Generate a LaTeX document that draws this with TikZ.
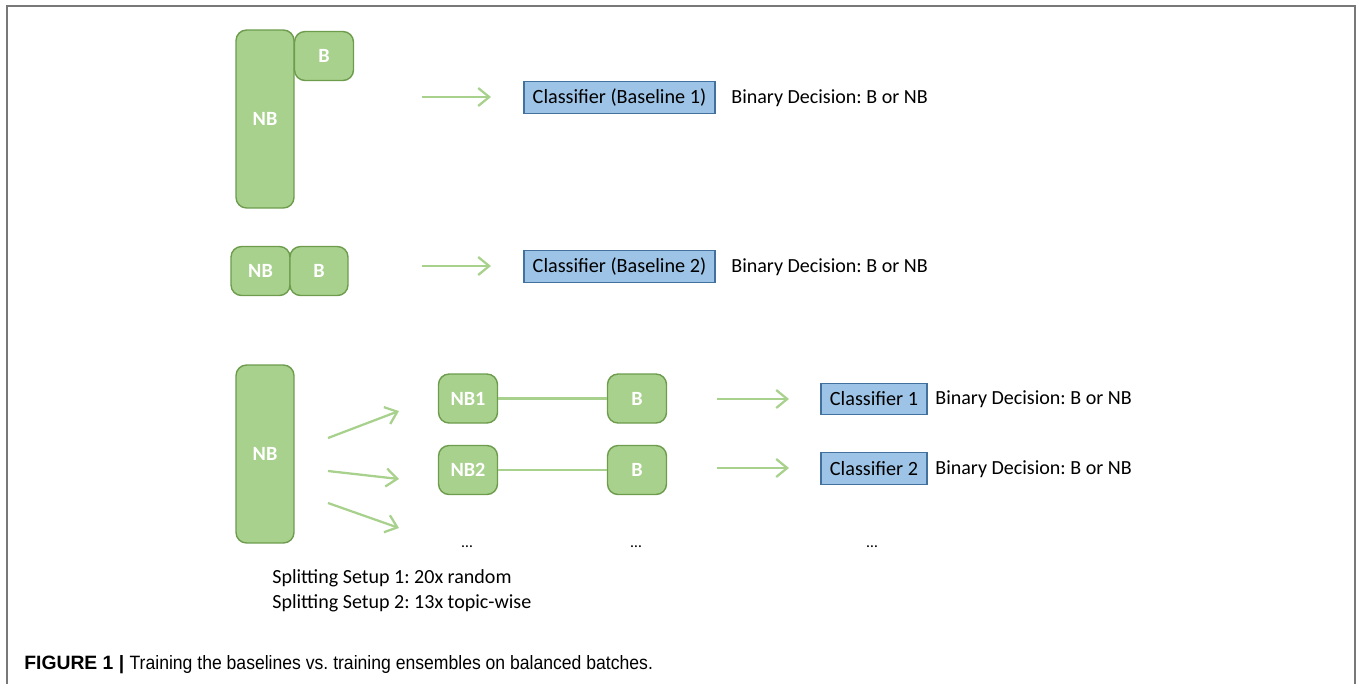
\documentclass[tikz,border=0pt]{standalone}
\usepackage{fontspec}
\setmainfont{Carlito}
\newfontfamily\capfont{Liberation Sans}
\newfontfamily\capnarrow[FakeStretch=0.91]{Liberation Sans}
\usetikzlibrary{positioning,arrows.meta}
\definecolor{setgreen}{RGB}{169,209,142}
\definecolor{setgreenline}{RGB}{108,156,76}
\definecolor{clsblue}{RGB}{157,195,230}
\definecolor{clsblueline}{RGB}{65,113,156}
\definecolor{framegray}{RGB}{120,120,120}
\frenchspacing

\tikzset{
  batch/.style={draw=setgreenline,fill=setgreen,line width=0.8pt,rounded corners=6pt,
    text=white,font=\fontsize{11.5}{13}\selectfont\bfseries,inner sep=0pt},
  tallbatch/.style={batch,minimum width=1.16cm,minimum height=3.56cm},
  smallbatch/.style={batch,minimum width=1.18cm,minimum height=0.98cm},
  classbox/.style={draw=clsblueline,fill=clsblue,line width=0.8pt,
    font=\fontsize{11.5}{13}\selectfont,inner sep=0pt,minimum height=0.63cm},
  decision/.style={anchor=west,font=\fontsize{11.4}{13}\selectfont,inner sep=0pt},
  flow/.style={setgreen,line width=1.3pt,-{Straight Barb[length=2.2mm,width=3.6mm]}},
}

\begin{document}
\begin{tikzpicture}[x=0.02cm,y=-0.02cm]
  \useasboundingbox (0,0) rectangle (1362,684);
  \draw[framegray,line width=1.2pt] (7,684) -- (7,6) -- (1355,6) -- (1355,684);

  % baseline 1
  \node[tallbatch] (nbA) at (265,119) {NB};
  \node[smallbatch] (bA) at (324,56) {B};
  \coordinate (fA) at (422,97);
  \coordinate (tA) at (491,97);
  \draw[flow] (fA) -- (tA);
  \node[classbox,minimum width=3.82cm] (clsA) at (619.5,97.5) {Classifier (Baseline 1)};
  \node[decision] (decA) at (731,98) {Binary Decision: B or NB};

  % baseline 2
  \node[smallbatch,minimum width=1.18cm] (nbB) at (260.5,271) {NB};
  \node[smallbatch,minimum width=1.16cm] (bB) at (319,271) {B};
  \coordinate (fB) at (422,266);
  \coordinate (tB) at (491,266);
  \draw[flow] (fB) -- (tB);
  \node[classbox,minimum width=3.82cm] (clsB) at (619.5,266.5) {Classifier (Baseline 2)};
  \node[decision] (decB) at (731,267) {Binary Decision: B or NB};

  % ensembles
  \node[tallbatch] (nbC) at (265,454) {NB};
  \coordinate (s1) at (328,438);
  \coordinate (e1) at (399,411);
  \coordinate (s2) at (328,471);
  \coordinate (e2) at (399,479);
  \coordinate (s3) at (328,503);
  \coordinate (e3) at (399,528);
  \foreach \i in {1,2,3}
    \draw[flow] (s\i) -- (e\i);

  \node[smallbatch] (nb1) at (468,398.5) {NB1};
  \node[smallbatch] (b1) at (637,398.5) {B};
  \node[smallbatch] (nb2) at (468,470) {NB2};
  \node[smallbatch] (b2) at (637,470) {B};
  \draw[setgreen,line width=1.3pt] (nb1) -- (b1);
  \draw[setgreen,line width=1.3pt] (nb2) -- (b2);

  \coordinate (f1) at (717,399);
  \coordinate (t1) at (789,399);
  \coordinate (f2) at (717,468);
  \coordinate (t2) at (789,468);
  \draw[flow] (f1) -- (t1);
  \draw[flow] (f2) -- (t2);
  \node[classbox,minimum width=2.12cm] (cls1) at (874,399) {Classifier 1};
  \node[classbox,minimum width=2.12cm] (cls2) at (874,468.5) {Classifier 2};
  \node[decision] (dec1) at (935,399.5) {Binary Decision: B or NB};
  \node[decision] (dec2) at (935,469) {Binary Decision: B or NB};

  \node[font=\fontsize{9}{10}\selectfont] (dotsA) at (467,547) {\ldots};
  \node[font=\fontsize{9}{10}\selectfont] (dotsB) at (636,547) {\ldots};
  \node[font=\fontsize{9}{10}\selectfont] (dotsC) at (872,547) {\ldots};

  \node[anchor=north west,align=left,inner sep=0pt,
        font=\fontsize{11.4}{14.2}\selectfont] (split) at (272,569)
    {Splitting Setup 1: 20x random\\Splitting Setup 2: 13x topic-wise};

  % caption
  \node[anchor=west,inner sep=0pt,font=\fontsize{11}{13}\selectfont] (cap) at (24,665)
    {\capfont\textbf{FIGURE 1 |} \capnarrow Training the baselines vs. training ensembles on balanced batches.};
\end{tikzpicture}
\end{document}
